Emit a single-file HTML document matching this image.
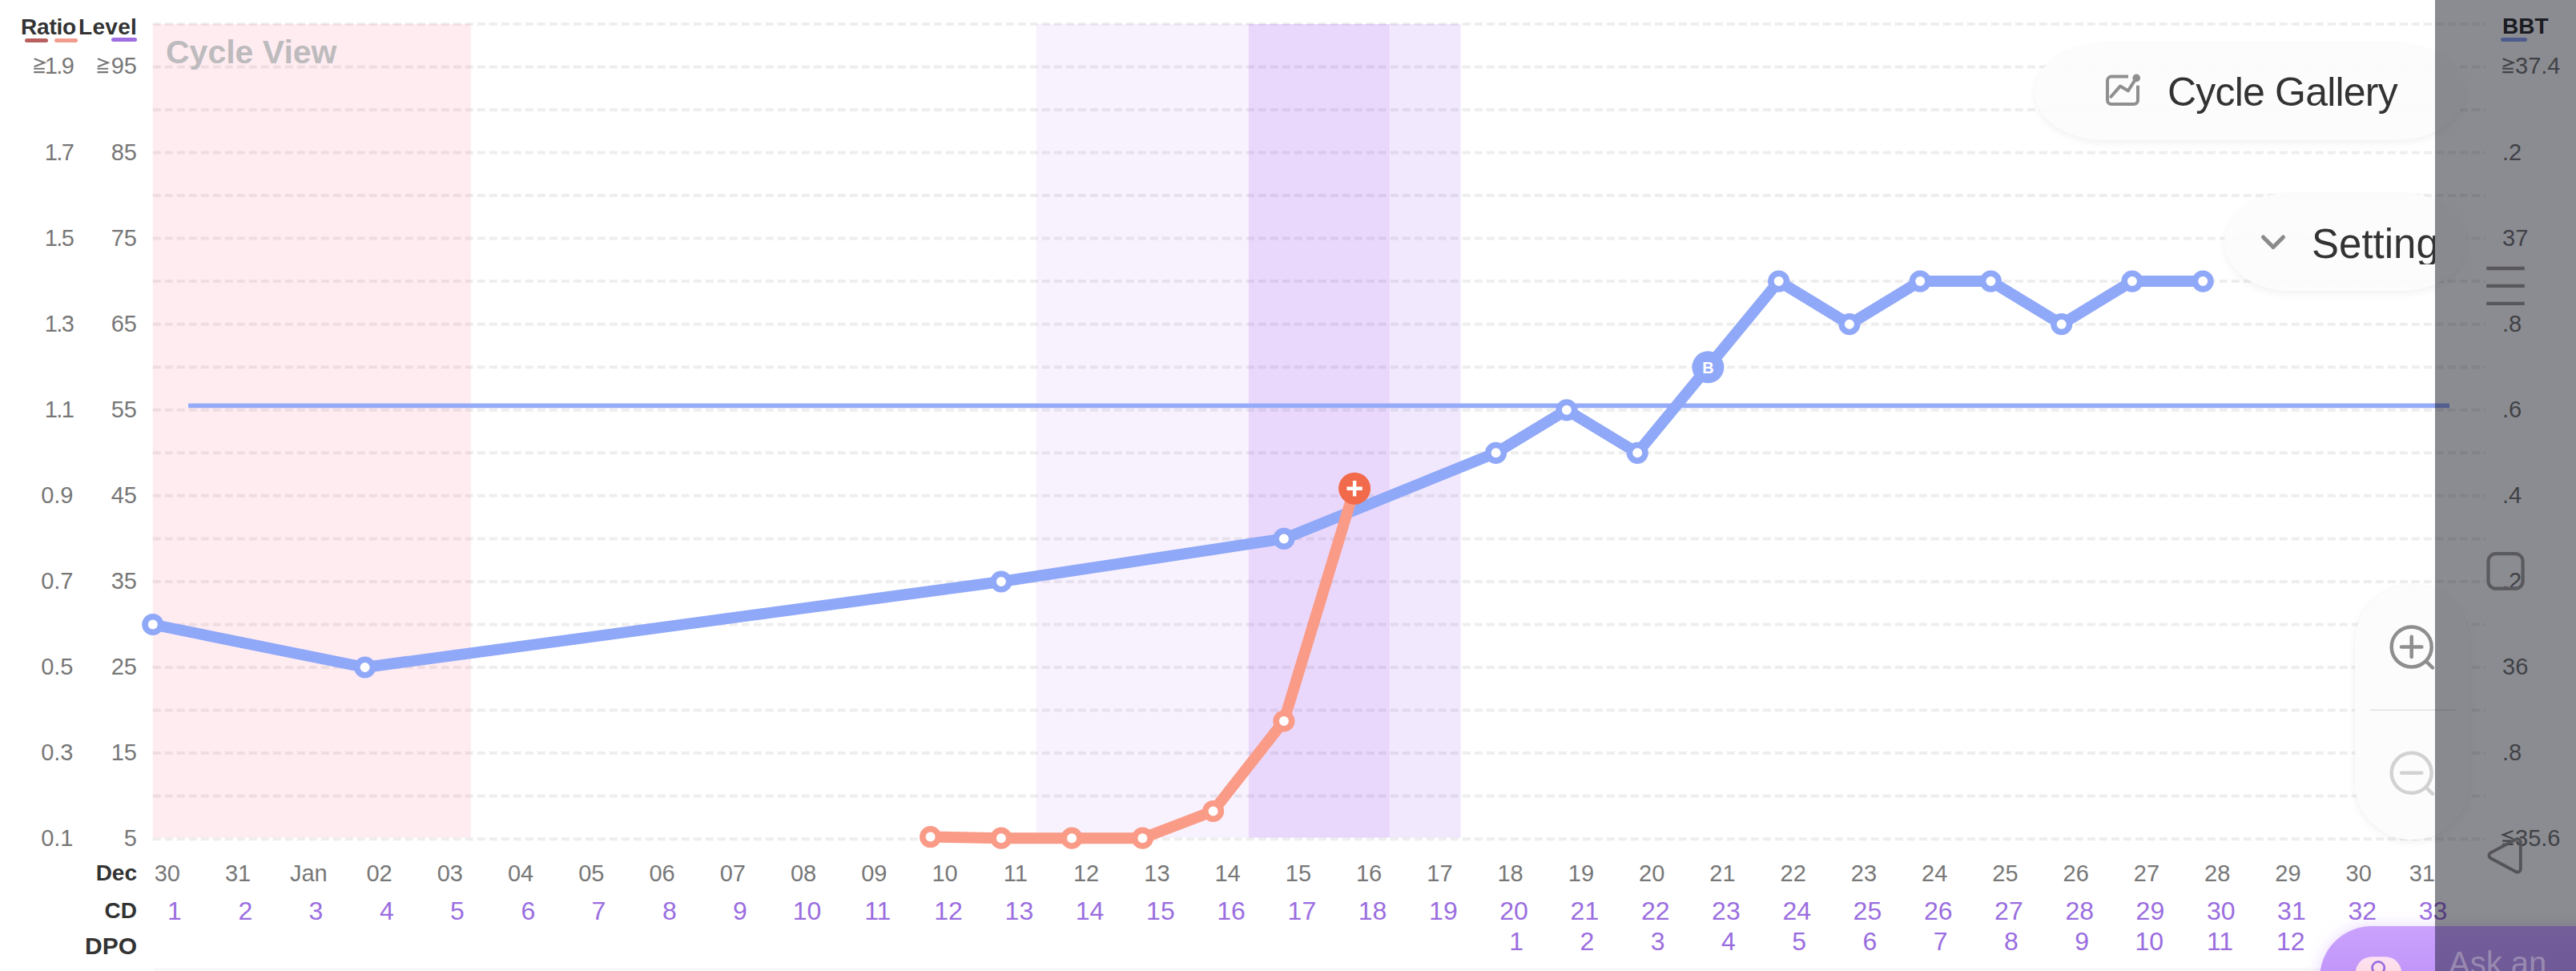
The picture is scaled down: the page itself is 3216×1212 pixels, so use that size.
<!DOCTYPE html>
<html><head><meta charset="utf-8">
<style>
html,body{margin:0;padding:0;}
body{width:3216px;height:1212px;position:relative;overflow:hidden;background:#fff;font-family:"Liberation Sans",sans-serif;}
.a{position:absolute;white-space:nowrap;line-height:1;}
</style></head><body>

<svg class="a" style="left:0;top:0" width="3216" height="1212" viewBox="0 0 3216 1212">
<rect x="190.8" y="30" width="397.1" height="1015.5" fill="#ffecf1"/>
<rect x="1294.0" y="30" width="264.8" height="1015.5" fill="#f8f2fe"/>
<rect x="1558.8" y="30" width="176.5" height="1015.5" fill="#ead8fc"/>
<rect x="1735.3" y="30" width="88.3" height="1015.5" fill="#f1e8fe"/>
<line x1="190.8" y1="29.9" x2="3103" y2="29.9" stroke="#000" stroke-opacity="0.068" stroke-width="4" stroke-dasharray="10 5"/>
<line x1="190.8" y1="83.4" x2="3103" y2="83.4" stroke="#000" stroke-opacity="0.068" stroke-width="4" stroke-dasharray="10 5"/>
<line x1="190.8" y1="137.0" x2="3103" y2="137.0" stroke="#000" stroke-opacity="0.068" stroke-width="4" stroke-dasharray="10 5"/>
<line x1="190.8" y1="190.5" x2="3103" y2="190.5" stroke="#000" stroke-opacity="0.068" stroke-width="4" stroke-dasharray="10 5"/>
<line x1="190.8" y1="244.1" x2="3103" y2="244.1" stroke="#000" stroke-opacity="0.068" stroke-width="4" stroke-dasharray="10 5"/>
<line x1="190.8" y1="297.6" x2="3103" y2="297.6" stroke="#000" stroke-opacity="0.068" stroke-width="4" stroke-dasharray="10 5"/>
<line x1="190.8" y1="351.1" x2="3103" y2="351.1" stroke="#000" stroke-opacity="0.068" stroke-width="4" stroke-dasharray="10 5"/>
<line x1="190.8" y1="404.7" x2="3103" y2="404.7" stroke="#000" stroke-opacity="0.068" stroke-width="4" stroke-dasharray="10 5"/>
<line x1="190.8" y1="458.2" x2="3103" y2="458.2" stroke="#000" stroke-opacity="0.068" stroke-width="4" stroke-dasharray="10 5"/>
<line x1="190.8" y1="511.8" x2="3103" y2="511.8" stroke="#000" stroke-opacity="0.068" stroke-width="4" stroke-dasharray="10 5"/>
<line x1="190.8" y1="565.3" x2="3103" y2="565.3" stroke="#000" stroke-opacity="0.068" stroke-width="4" stroke-dasharray="10 5"/>
<line x1="190.8" y1="618.8" x2="3103" y2="618.8" stroke="#000" stroke-opacity="0.068" stroke-width="4" stroke-dasharray="10 5"/>
<line x1="190.8" y1="672.4" x2="3103" y2="672.4" stroke="#000" stroke-opacity="0.068" stroke-width="4" stroke-dasharray="10 5"/>
<line x1="190.8" y1="725.9" x2="3103" y2="725.9" stroke="#000" stroke-opacity="0.068" stroke-width="4" stroke-dasharray="10 5"/>
<line x1="190.8" y1="779.5" x2="3103" y2="779.5" stroke="#000" stroke-opacity="0.068" stroke-width="4" stroke-dasharray="10 5"/>
<line x1="190.8" y1="833.0" x2="3103" y2="833.0" stroke="#000" stroke-opacity="0.068" stroke-width="4" stroke-dasharray="10 5"/>
<line x1="190.8" y1="886.5" x2="3103" y2="886.5" stroke="#000" stroke-opacity="0.068" stroke-width="4" stroke-dasharray="10 5"/>
<line x1="190.8" y1="940.1" x2="3103" y2="940.1" stroke="#000" stroke-opacity="0.068" stroke-width="4" stroke-dasharray="10 5"/>
<line x1="190.8" y1="993.6" x2="3103" y2="993.6" stroke="#000" stroke-opacity="0.068" stroke-width="4" stroke-dasharray="10 5"/>
<line x1="190.8" y1="1047.2" x2="3103" y2="1047.2" stroke="#000" stroke-opacity="0.068" stroke-width="4" stroke-dasharray="10 5"/>
<line x1="235" y1="506.4" x2="3058" y2="506.4" stroke="#96abf8" stroke-width="5.8"/>
<polyline points="190.8,779.5 455.6,833 1249.9,726 1602.9,672.4 1867.6,565.3 1955.9,511.8 2044.2,565.3 2132.4,458.3 2220.7,351.1 2308.9,404.7 2397.2,351.1 2485.4,351.1 2573.7,404.7 2661.9,351.1 2750.2,351.1" fill="none" stroke="#90a8f8" stroke-width="14" stroke-linejoin="round" stroke-linecap="round"/>
<circle cx="190.8" cy="779.5" r="9.8" fill="#fff" stroke="#90a8f8" stroke-width="7.6"/>
<circle cx="455.6" cy="833" r="9.8" fill="#fff" stroke="#90a8f8" stroke-width="7.6"/>
<circle cx="1249.9" cy="726" r="9.8" fill="#fff" stroke="#90a8f8" stroke-width="7.6"/>
<circle cx="1602.9" cy="672.4" r="9.8" fill="#fff" stroke="#90a8f8" stroke-width="7.6"/>
<circle cx="1867.6" cy="565.3" r="9.8" fill="#fff" stroke="#90a8f8" stroke-width="7.6"/>
<circle cx="1955.9" cy="511.8" r="9.8" fill="#fff" stroke="#90a8f8" stroke-width="7.6"/>
<circle cx="2044.2" cy="565.3" r="9.8" fill="#fff" stroke="#90a8f8" stroke-width="7.6"/>
<circle cx="2132.4" cy="458.3" r="20" fill="#90a8f8"/>
<text x="2132.4" y="465.6" text-anchor="middle" font-family="Liberation Sans" font-weight="bold" font-size="20" fill="#fff">B</text>
<circle cx="2220.7" cy="351.1" r="9.8" fill="#fff" stroke="#90a8f8" stroke-width="7.6"/>
<circle cx="2308.9" cy="404.7" r="9.8" fill="#fff" stroke="#90a8f8" stroke-width="7.6"/>
<circle cx="2397.2" cy="351.1" r="9.8" fill="#fff" stroke="#90a8f8" stroke-width="7.6"/>
<circle cx="2485.4" cy="351.1" r="9.8" fill="#fff" stroke="#90a8f8" stroke-width="7.6"/>
<circle cx="2573.7" cy="404.7" r="9.8" fill="#fff" stroke="#90a8f8" stroke-width="7.6"/>
<circle cx="2661.9" cy="351.1" r="9.8" fill="#fff" stroke="#90a8f8" stroke-width="7.6"/>
<circle cx="2750.2" cy="351.1" r="9.8" fill="#fff" stroke="#90a8f8" stroke-width="7.6"/>
<polyline points="1161.6,1044.6 1249.9,1046.2 1338.1,1046.2 1426.4,1046.2 1514.6,1012.5 1602.9,900 1691.1,609.7" fill="none" stroke="#f99b87" stroke-width="14" stroke-linejoin="round" stroke-linecap="round"/>
<circle cx="1161.6" cy="1044.6" r="9.8" fill="#fff" stroke="#f99b87" stroke-width="7.6"/>
<circle cx="1249.9" cy="1046.2" r="9.8" fill="#fff" stroke="#f99b87" stroke-width="7.6"/>
<circle cx="1338.1" cy="1046.2" r="9.8" fill="#fff" stroke="#f99b87" stroke-width="7.6"/>
<circle cx="1426.4" cy="1046.2" r="9.8" fill="#fff" stroke="#f99b87" stroke-width="7.6"/>
<circle cx="1514.6" cy="1012.5" r="9.8" fill="#fff" stroke="#f99b87" stroke-width="7.6"/>
<circle cx="1602.9" cy="900" r="9.8" fill="#fff" stroke="#f99b87" stroke-width="7.6"/>
<circle cx="1691.1" cy="609.7" r="20" fill="#f26a4c"/>
<path d="M1681.4 609.7H1700.8M1691.1 600.0V619.4" stroke="#fff" stroke-width="4.4"/>
<rect x="190.8" y="1208" width="3025.2" height="4" fill="#f8f8f8"/>
</svg>
<div class="a" style="left:26px;top:20px;font-weight:bold;font-size:28px;color:#333;letter-spacing:-0.2px">Ratio</div>
<div class="a" style="left:98px;top:20px;font-weight:bold;font-size:28px;color:#333;letter-spacing:0.3px">Level</div>
<div class="a" style="left:31px;top:48px;width:29px;height:5px;border-radius:3px;background:#b95f5f"></div>
<div class="a" style="left:68px;top:48px;width:29px;height:5px;border-radius:3px;background:#f19c8c"></div>
<div class="a" style="left:139px;top:47px;width:32px;height:5px;border-radius:3px;background:#a06ee3"></div>
<div class="a" style="left:207px;top:45px;font-weight:bold;font-size:41px;color:#bdbbbd">Cycle View</div>
<svg class="a" style="left:0;top:0" width="3216" height="1212"><path d="M42.7 73.2 L55.5 78.2 L42.7 83.2 M42.2 85.8 H55.8 M42.2 90.1 H55.8" fill="none" stroke="#777" stroke-width="2.1"/></svg>
<svg class="a" style="left:0;top:0" width="3216" height="1212"><path d="M122.0 73.2 L134.8 78.2 L122.0 83.2 M121.5 85.8 H135.1 M121.5 90.1 H135.1" fill="none" stroke="#777" stroke-width="2.1"/></svg>
<svg class="a" style="left:0;top:0" width="3216" height="1212"><path d="M3124.7 73.2 L3137.5 78.2 L3124.7 83.2 M3124.2 85.8 H3137.8 M3124.2 90.1 H3137.8" fill="none" stroke="#777" stroke-width="2.1"/></svg>
<div class="a" style="right:3124.5px;top:68.4px;font-size:29px;color:#777;letter-spacing:-1.5px">1.9</div>
<div class="a" style="right:3045px;top:68.4px;font-size:29px;color:#777">95</div>
<div class="a" style="left:3140px;top:68.4px;font-size:29px;color:#777">37.4</div>
<div class="a" style="right:3124.5px;top:175.5px;font-size:29px;color:#777;letter-spacing:-1.5px">1.7</div>
<div class="a" style="right:3045px;top:175.5px;font-size:29px;color:#777">85</div>
<div class="a" style="left:3124px;top:175.5px;font-size:29px;color:#777">.2</div>
<div class="a" style="right:3124.5px;top:282.6px;font-size:29px;color:#777;letter-spacing:-1.5px">1.5</div>
<div class="a" style="right:3045px;top:282.6px;font-size:29px;color:#777">75</div>
<div class="a" style="left:3124px;top:282.6px;font-size:29px;color:#777">37</div>
<div class="a" style="right:3124.5px;top:389.7px;font-size:29px;color:#777;letter-spacing:-1.5px">1.3</div>
<div class="a" style="right:3045px;top:389.7px;font-size:29px;color:#777">65</div>
<div class="a" style="left:3124px;top:389.7px;font-size:29px;color:#777">.8</div>
<div class="a" style="right:3124.5px;top:496.8px;font-size:29px;color:#777;letter-spacing:-1.5px">1.1</div>
<div class="a" style="right:3045px;top:496.8px;font-size:29px;color:#777">55</div>
<div class="a" style="left:3124px;top:496.8px;font-size:29px;color:#777">.6</div>
<div class="a" style="right:3124.5px;top:603.8px;font-size:29px;color:#777;letter-spacing:0">0.9</div>
<div class="a" style="right:3045px;top:603.8px;font-size:29px;color:#777">45</div>
<div class="a" style="left:3124px;top:603.8px;font-size:29px;color:#777">.4</div>
<div class="a" style="right:3124.5px;top:710.9px;font-size:29px;color:#777;letter-spacing:0">0.7</div>
<div class="a" style="right:3045px;top:710.9px;font-size:29px;color:#777">35</div>
<div class="a" style="left:3124px;top:710.9px;font-size:29px;color:#777">.2</div>
<div class="a" style="right:3124.5px;top:818.0px;font-size:29px;color:#777;letter-spacing:0">0.5</div>
<div class="a" style="right:3045px;top:818.0px;font-size:29px;color:#777">25</div>
<div class="a" style="left:3124px;top:818.0px;font-size:29px;color:#777">36</div>
<div class="a" style="right:3124.5px;top:925.1px;font-size:29px;color:#777;letter-spacing:0">0.3</div>
<div class="a" style="right:3045px;top:925.1px;font-size:29px;color:#777">15</div>
<div class="a" style="left:3124px;top:925.1px;font-size:29px;color:#777">.8</div>
<svg class="a" style="left:0;top:0" width="3216" height="1212"><path d="M3137.5 1037.0 L3124.7 1042.0 L3137.5 1047.0 M3124.2 1049.6 H3137.8 M3124.2 1053.9 H3137.8" fill="none" stroke="#777" stroke-width="2.1"/></svg>
<div class="a" style="right:3124.5px;top:1032.2px;font-size:29px;color:#777;letter-spacing:0">0.1</div>
<div class="a" style="right:3045px;top:1032.2px;font-size:29px;color:#777">5</div>
<div class="a" style="left:3140px;top:1032.2px;font-size:29px;color:#777">35.6</div>
<div class="a" style="left:3124px;top:19px;font-weight:bold;font-size:28px;color:#333">BBT</div>
<div class="a" style="left:3122px;top:46.5px;width:33px;height:5px;border-radius:3px;background:#90a8f8"></div>
<div class="a" style="right:3045px;top:1076px;font-weight:bold;font-size:28px;color:#333">Dec</div>
<div class="a" style="right:3045px;top:1123px;font-weight:bold;font-size:28px;color:#333">CD</div>
<div class="a" style="right:3045px;top:1166px;font-weight:bold;font-size:30px;color:#333">DPO</div>
<div class="a" style="left:158.8px;width:100px;text-align:center;top:1076px;font-size:29px;color:#777">30</div>
<div class="a" style="left:247.1px;width:100px;text-align:center;top:1076px;font-size:29px;color:#777">31</div>
<div class="a" style="left:335.3px;width:100px;text-align:center;top:1076px;font-size:29px;color:#777">Jan</div>
<div class="a" style="left:423.6px;width:100px;text-align:center;top:1076px;font-size:29px;color:#777">02</div>
<div class="a" style="left:511.8px;width:100px;text-align:center;top:1076px;font-size:29px;color:#777">03</div>
<div class="a" style="left:600.1px;width:100px;text-align:center;top:1076px;font-size:29px;color:#777">04</div>
<div class="a" style="left:688.3px;width:100px;text-align:center;top:1076px;font-size:29px;color:#777">05</div>
<div class="a" style="left:776.6px;width:100px;text-align:center;top:1076px;font-size:29px;color:#777">06</div>
<div class="a" style="left:864.8px;width:100px;text-align:center;top:1076px;font-size:29px;color:#777">07</div>
<div class="a" style="left:953.1px;width:100px;text-align:center;top:1076px;font-size:29px;color:#777">08</div>
<div class="a" style="left:1041.3px;width:100px;text-align:center;top:1076px;font-size:29px;color:#777">09</div>
<div class="a" style="left:1129.6px;width:100px;text-align:center;top:1076px;font-size:29px;color:#777">10</div>
<div class="a" style="left:1217.9px;width:100px;text-align:center;top:1076px;font-size:29px;color:#777">11</div>
<div class="a" style="left:1306.1px;width:100px;text-align:center;top:1076px;font-size:29px;color:#777">12</div>
<div class="a" style="left:1394.4px;width:100px;text-align:center;top:1076px;font-size:29px;color:#777">13</div>
<div class="a" style="left:1482.6px;width:100px;text-align:center;top:1076px;font-size:29px;color:#777">14</div>
<div class="a" style="left:1570.9px;width:100px;text-align:center;top:1076px;font-size:29px;color:#777">15</div>
<div class="a" style="left:1659.1px;width:100px;text-align:center;top:1076px;font-size:29px;color:#777">16</div>
<div class="a" style="left:1747.4px;width:100px;text-align:center;top:1076px;font-size:29px;color:#777">17</div>
<div class="a" style="left:1835.6px;width:100px;text-align:center;top:1076px;font-size:29px;color:#777">18</div>
<div class="a" style="left:1923.9px;width:100px;text-align:center;top:1076px;font-size:29px;color:#777">19</div>
<div class="a" style="left:2012.2px;width:100px;text-align:center;top:1076px;font-size:29px;color:#777">20</div>
<div class="a" style="left:2100.4px;width:100px;text-align:center;top:1076px;font-size:29px;color:#777">21</div>
<div class="a" style="left:2188.7px;width:100px;text-align:center;top:1076px;font-size:29px;color:#777">22</div>
<div class="a" style="left:2276.9px;width:100px;text-align:center;top:1076px;font-size:29px;color:#777">23</div>
<div class="a" style="left:2365.2px;width:100px;text-align:center;top:1076px;font-size:29px;color:#777">24</div>
<div class="a" style="left:2453.4px;width:100px;text-align:center;top:1076px;font-size:29px;color:#777">25</div>
<div class="a" style="left:2541.7px;width:100px;text-align:center;top:1076px;font-size:29px;color:#777">26</div>
<div class="a" style="left:2629.9px;width:100px;text-align:center;top:1076px;font-size:29px;color:#777">27</div>
<div class="a" style="left:2718.2px;width:100px;text-align:center;top:1076px;font-size:29px;color:#777">28</div>
<div class="a" style="left:2806.4px;width:100px;text-align:center;top:1076px;font-size:29px;color:#777">29</div>
<div class="a" style="left:2894.7px;width:100px;text-align:center;top:1076px;font-size:29px;color:#777">30</div>
<div class="a" style="left:2974.0px;width:100px;text-align:center;top:1076px;font-size:29px;color:#777">31</div>
<div class="a" style="left:168.0px;width:100px;text-align:center;top:1121px;font-size:32px;color:#9a6ddf">1</div>
<div class="a" style="left:256.3px;width:100px;text-align:center;top:1121px;font-size:32px;color:#9a6ddf">2</div>
<div class="a" style="left:344.5px;width:100px;text-align:center;top:1121px;font-size:32px;color:#9a6ddf">3</div>
<div class="a" style="left:432.8px;width:100px;text-align:center;top:1121px;font-size:32px;color:#9a6ddf">4</div>
<div class="a" style="left:521.0px;width:100px;text-align:center;top:1121px;font-size:32px;color:#9a6ddf">5</div>
<div class="a" style="left:609.3px;width:100px;text-align:center;top:1121px;font-size:32px;color:#9a6ddf">6</div>
<div class="a" style="left:697.5px;width:100px;text-align:center;top:1121px;font-size:32px;color:#9a6ddf">7</div>
<div class="a" style="left:785.8px;width:100px;text-align:center;top:1121px;font-size:32px;color:#9a6ddf">8</div>
<div class="a" style="left:874.0px;width:100px;text-align:center;top:1121px;font-size:32px;color:#9a6ddf">9</div>
<div class="a" style="left:957.6px;width:100px;text-align:center;top:1121px;font-size:32px;color:#9a6ddf">10</div>
<div class="a" style="left:1045.8px;width:100px;text-align:center;top:1121px;font-size:32px;color:#9a6ddf">11</div>
<div class="a" style="left:1134.1px;width:100px;text-align:center;top:1121px;font-size:32px;color:#9a6ddf">12</div>
<div class="a" style="left:1222.4px;width:100px;text-align:center;top:1121px;font-size:32px;color:#9a6ddf">13</div>
<div class="a" style="left:1310.6px;width:100px;text-align:center;top:1121px;font-size:32px;color:#9a6ddf">14</div>
<div class="a" style="left:1398.9px;width:100px;text-align:center;top:1121px;font-size:32px;color:#9a6ddf">15</div>
<div class="a" style="left:1487.1px;width:100px;text-align:center;top:1121px;font-size:32px;color:#9a6ddf">16</div>
<div class="a" style="left:1575.4px;width:100px;text-align:center;top:1121px;font-size:32px;color:#9a6ddf">17</div>
<div class="a" style="left:1663.6px;width:100px;text-align:center;top:1121px;font-size:32px;color:#9a6ddf">18</div>
<div class="a" style="left:1751.9px;width:100px;text-align:center;top:1121px;font-size:32px;color:#9a6ddf">19</div>
<div class="a" style="left:1840.1px;width:100px;text-align:center;top:1121px;font-size:32px;color:#9a6ddf">20</div>
<div class="a" style="left:1928.4px;width:100px;text-align:center;top:1121px;font-size:32px;color:#9a6ddf">21</div>
<div class="a" style="left:2016.7px;width:100px;text-align:center;top:1121px;font-size:32px;color:#9a6ddf">22</div>
<div class="a" style="left:2104.9px;width:100px;text-align:center;top:1121px;font-size:32px;color:#9a6ddf">23</div>
<div class="a" style="left:2193.2px;width:100px;text-align:center;top:1121px;font-size:32px;color:#9a6ddf">24</div>
<div class="a" style="left:2281.4px;width:100px;text-align:center;top:1121px;font-size:32px;color:#9a6ddf">25</div>
<div class="a" style="left:2369.7px;width:100px;text-align:center;top:1121px;font-size:32px;color:#9a6ddf">26</div>
<div class="a" style="left:2457.9px;width:100px;text-align:center;top:1121px;font-size:32px;color:#9a6ddf">27</div>
<div class="a" style="left:2546.2px;width:100px;text-align:center;top:1121px;font-size:32px;color:#9a6ddf">28</div>
<div class="a" style="left:2634.4px;width:100px;text-align:center;top:1121px;font-size:32px;color:#9a6ddf">29</div>
<div class="a" style="left:2722.7px;width:100px;text-align:center;top:1121px;font-size:32px;color:#9a6ddf">30</div>
<div class="a" style="left:2810.9px;width:100px;text-align:center;top:1121px;font-size:32px;color:#9a6ddf">31</div>
<div class="a" style="left:2899.2px;width:100px;text-align:center;top:1121px;font-size:32px;color:#9a6ddf">32</div>
<div class="a" style="left:2987.5px;width:100px;text-align:center;top:1121px;font-size:32px;color:#9a6ddf">33</div>
<div class="a" style="left:1843.1px;width:100px;text-align:center;top:1159px;font-size:32px;color:#9a6ddf">1</div>
<div class="a" style="left:1931.4px;width:100px;text-align:center;top:1159px;font-size:32px;color:#9a6ddf">2</div>
<div class="a" style="left:2019.7px;width:100px;text-align:center;top:1159px;font-size:32px;color:#9a6ddf">3</div>
<div class="a" style="left:2107.9px;width:100px;text-align:center;top:1159px;font-size:32px;color:#9a6ddf">4</div>
<div class="a" style="left:2196.2px;width:100px;text-align:center;top:1159px;font-size:32px;color:#9a6ddf">5</div>
<div class="a" style="left:2284.4px;width:100px;text-align:center;top:1159px;font-size:32px;color:#9a6ddf">6</div>
<div class="a" style="left:2372.7px;width:100px;text-align:center;top:1159px;font-size:32px;color:#9a6ddf">7</div>
<div class="a" style="left:2460.9px;width:100px;text-align:center;top:1159px;font-size:32px;color:#9a6ddf">8</div>
<div class="a" style="left:2549.2px;width:100px;text-align:center;top:1159px;font-size:32px;color:#9a6ddf">9</div>
<div class="a" style="left:2633.2px;width:100px;text-align:center;top:1159px;font-size:32px;color:#9a6ddf">10</div>
<div class="a" style="left:2721.5px;width:100px;text-align:center;top:1159px;font-size:32px;color:#9a6ddf">11</div>
<div class="a" style="left:2809.8px;width:100px;text-align:center;top:1159px;font-size:32px;color:#9a6ddf">12</div>
<div class="a" style="left:2540px;top:54px;width:538px;height:121px;border-radius:88px/61px;background:rgba(252,252,252,0.9);box-shadow:0 0 0 1px rgba(0,0,0,0.012),0 4px 10px rgba(0,0,0,0.05)"></div>
<svg class="a" style="left:2620px;top:85px" width="60" height="55" viewBox="2620 85 60 55">
<path d="M2657 95.6 H2636 a5 5 0 0 0 -5 5 V125 a5 5 0 0 0 5 5 H2664 a5 5 0 0 0 5 -5 V106.8" fill="none" stroke="#8f8f8f" stroke-width="4"/>
<path d="M2635.4 120.8 L2646.9 107.6 L2656.8 113.3 L2667 97.4" fill="none" stroke="#8f8f8f" stroke-width="4" stroke-linecap="round" stroke-linejoin="round"/>
<circle cx="2667.2" cy="97.4" r="4.8" fill="#8f8f8f"/>
</svg>
<div class="a" style="left:2706px;top:90px;font-size:50px;color:#333;letter-spacing:-0.8px">Cycle Gallery</div>
<div class="a" style="left:2777px;top:241px;width:303px;height:122px;border-radius:80px/61px;background:rgba(252,252,252,0.9);box-shadow:0 0 0 1px rgba(0,0,0,0.012),0 4px 10px rgba(0,0,0,0.05)"></div>
<svg class="a" style="left:2815px;top:285px" width="50" height="35" viewBox="2815 285 50 35"><path d="M2825.5 296 L2838 308.5 L2850.5 296" fill="none" stroke="#8a8a8a" stroke-width="5" stroke-linecap="round" stroke-linejoin="round"/></svg>
<div class="a" style="left:2886px;top:279px;font-size:51px;color:#333;width:154px;overflow:hidden">Settings</div>
<div class="a" style="left:2940px;top:730px;width:143px;height:318px;border-radius:72px;background:rgba(252,252,252,0.96);box-shadow:0 0 0 1px rgba(0,0,0,0.015),0 3px 12px rgba(0,0,0,0.06)"></div>
<svg class="a" style="left:2950px;top:740px" width="130" height="300" viewBox="2950 740 130 300">
<circle cx="3010.7" cy="807.4" r="25" fill="none" stroke="#8e8e8e" stroke-width="4.5"/>
<path d="M2998 807.4 H3023.4 M3010.7 794.7 V820.1 M3029 825.7 L3037 833.5" fill="none" stroke="#8e8e8e" stroke-width="4.5" stroke-linecap="round"/>
<line x1="2959" y1="886.3" x2="3065" y2="886.3" stroke="#e2e2e2" stroke-width="1.5"/>
<circle cx="3010.7" cy="964.8" r="25" fill="none" stroke="#d2d2d2" stroke-width="4.5"/>
<path d="M2998 964.8 H3023.4 M3029 983.1 L3037 990.9" fill="none" stroke="#d2d2d2" stroke-width="4.5" stroke-linecap="round"/>
</svg>
<div class="a" style="left:2896px;top:1156px;width:500px;height:130px;border-radius:65px;background:linear-gradient(180deg,#caa2fd,#b687f4);box-shadow:0 0 18px rgba(190,140,255,0.35)"></div>
<svg class="a" style="left:2935px;top:1190px" width="70" height="22" viewBox="2935 1190 70 22">
<defs><linearGradient id="pk" x1="0" y1="0" x2="0" y2="1"><stop offset="0" stop-color="#fde2f4"/><stop offset="1" stop-color="#fdd6d2"/></linearGradient></defs>
<rect x="2940.8" y="1194.3" width="57.4" height="40" rx="20" fill="url(#pk)"/>
<circle cx="2969.2" cy="1208" r="7.6" fill="none" stroke="#9a6fe0" stroke-width="2.8"/>
</svg>
<div class="a" style="left:3040px;top:0;width:176px;height:1212px;background:rgba(0,2,13,0.455)"></div>
<div class="a" style="left:3040px;top:1156px;width:176px;height:56px;background:linear-gradient(180deg,#745e9a,#6f5a98)"></div>
<div class="a" style="left:3057px;top:1182px;font-size:40px;color:#9889b0">Ask an</div>
<svg class="a" style="left:3090px;top:320px" width="80" height="790" viewBox="3090 320 80 790">
<path d="M3104.2 335 H3151.8 M3104.2 356.8 H3151.8 M3104.2 378.8 H3151.8" stroke="#58585c" stroke-width="4.3"/>
<rect x="3106.5" y="691.1" width="43.1" height="43.6" rx="9.5" fill="none" stroke="#5a5a5e" stroke-width="4.2"/>
<path d="M3146.8 1052 V1084.5 a4 4 0 0 1 -6 3.5 L3109.5 1071.3 a4 4 0 0 1 0 -7 L3140.8 1047.7 a4 4 0 0 1 6 3.5 Z" fill="none" stroke="#545458" stroke-width="3.8" stroke-linejoin="round"/>
</svg>
</body></html>
